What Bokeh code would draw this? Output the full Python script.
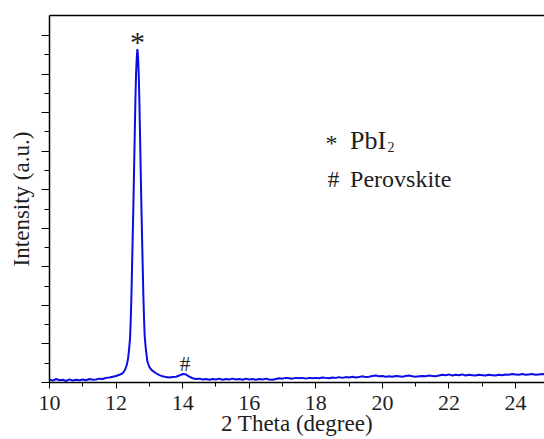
from bokeh.plotting import figure
from bokeh.models import FixedTicker, Range1d, Label, LinearAxis
from bokeh.embed import file_html
from bokeh.resources import INLINE

# ---- data ----
two_theta = [
    10.0, 10.1, 10.2, 10.3, 10.4, 10.5, 10.6, 10.7, 10.8, 10.9,
    11.0, 11.1, 11.2, 11.3, 11.4, 11.5, 11.6, 11.7, 11.8, 11.9,
    12.0, 12.1, 12.2, 12.27, 12.32, 12.36, 12.39, 12.42, 12.44, 12.46,
    12.48, 12.50, 12.52, 12.54, 12.56, 12.58, 12.60, 12.62, 12.64, 12.66,
    12.68, 12.70, 12.72, 12.74, 12.76, 12.78, 12.80, 12.82, 12.84, 12.86,
    12.89, 12.94, 12.99, 13.04, 13.1, 13.2, 13.3, 13.4, 13.5, 13.6,
    13.7, 13.8, 13.9, 14.0, 14.1, 14.2, 14.3, 14.4, 14.5, 14.6,
    14.7, 14.8, 14.9, 15.0, 15.1, 15.2, 15.3, 15.4, 15.5, 15.6,
    15.7, 15.8, 15.9, 16.0, 16.1, 16.2, 16.3, 16.4, 16.5, 16.6,
    16.7, 16.8, 16.9, 17.0, 17.1, 17.2, 17.3, 17.4, 17.5, 17.6,
    17.7, 17.8, 17.9, 18.0, 18.1, 18.2, 18.3, 18.4, 18.5, 18.6,
    18.7, 18.8, 18.9, 19.0, 19.1, 19.2, 19.3, 19.4, 19.5, 19.6,
    19.7, 19.8, 19.9, 20.0, 20.1, 20.2, 20.3, 20.4, 20.5, 20.6,
    20.7, 20.8, 20.9, 21.0, 21.1, 21.2, 21.3, 21.4, 21.5, 21.6,
    21.7, 21.8, 21.9, 22.0, 22.1, 22.2, 22.3, 22.4, 22.5, 22.6,
    22.7, 22.8, 22.9, 23.0, 23.1, 23.2, 23.3, 23.4, 23.5, 23.6,
    23.7, 23.8, 23.9, 24.0, 24.1, 24.2, 24.3, 24.4, 24.5, 24.6,
    24.7, 24.8, 24.9,
]
intensity = [
    0.08, 0.05, 0.09, 0.06, 0.07, 0.04, 0.08, 0.05, 0.07, 0.06,
    0.08, 0.06, 0.09, 0.07, 0.08, 0.10, 0.09, 0.12, 0.13, 0.15,
    0.17, 0.20, 0.24, 0.33, 0.45, 0.62, 0.85, 1.15, 1.60, 2.20,
    3.00, 3.80, 4.60, 5.50, 6.40, 7.30, 8.00, 8.40, 8.65, 8.45,
    8.00, 7.30, 6.40, 5.50, 4.60, 3.80, 3.00, 2.25, 1.65, 1.20,
    0.90, 0.55, 0.42, 0.35, 0.30, 0.24, 0.19, 0.16, 0.14, 0.13,
    0.14, 0.15, 0.18, 0.22, 0.21, 0.15, 0.11, 0.09, 0.10, 0.08,
    0.09, 0.07, 0.09, 0.08, 0.10, 0.07, 0.09, 0.08, 0.10, 0.08,
    0.09, 0.07, 0.10, 0.08, 0.09, 0.07, 0.09, 0.08, 0.10, 0.08,
    0.07, 0.09, 0.11, 0.10, 0.12, 0.11, 0.10, 0.12, 0.11, 0.12,
    0.10, 0.12, 0.11, 0.12, 0.11, 0.13, 0.12, 0.11, 0.13, 0.12,
    0.14, 0.12, 0.14, 0.13, 0.15, 0.13, 0.14, 0.16, 0.14, 0.15,
    0.17, 0.18, 0.16, 0.17, 0.15, 0.16, 0.15, 0.17, 0.16, 0.15,
    0.17, 0.18, 0.16, 0.15, 0.16, 0.17, 0.16, 0.18, 0.17, 0.16,
    0.18, 0.20, 0.19, 0.21, 0.18, 0.20, 0.19, 0.21, 0.18, 0.20,
    0.19, 0.18, 0.20, 0.19, 0.18, 0.20, 0.19, 0.18, 0.20, 0.19,
    0.21, 0.20, 0.22, 0.21, 0.20, 0.22, 0.20, 0.21, 0.22, 0.20,
    0.21, 0.22, 0.21,
]
x_major = [10, 12, 14, 16, 18, 20, 22, 24]
x_minor = [11, 13, 15, 17, 19, 21, 23]
y_major = [0, 1, 2, 3, 4, 5, 6, 7, 8, 9]
y_minor = [0.5, 1.5, 2.5, 3.5, 4.5, 5.5, 6.5, 7.5, 8.5]

FONT = "Liberation Serif"
TXT = "#1e1e1e"

p = figure(width=544, height=439, output_backend="svg", toolbar_location=None,
           x_range=Range1d(10, 24.87), y_range=Range1d(0, 9.52),
           min_border_left=49, min_border_right=0, min_border_top=15,
           min_border_bottom=57)
p.outline_line_color = None
p.grid.visible = False
p.background_fill_color = "white"
p.border_fill_color = "white"

p.line(two_theta, intensity, line_color="#0c0ce6", line_width=2)

xa = p.below[0]
ya = p.left[0]

xa.ticker = FixedTicker(ticks=x_major, minor_ticks=x_minor)
xa.axis_label = "2 Theta (degree)"
xa.axis_label_text_font = FONT
xa.axis_label_text_font_style = "normal"
xa.axis_label_text_font_size = "23px"
xa.axis_label_text_color = TXT
xa.axis_label_standoff = -2
xa.major_label_text_font = FONT
xa.major_label_text_font_size = "22px"
xa.major_label_text_color = TXT
xa.major_label_standoff = 7
xa.major_tick_out = 6
xa.major_tick_in = 0
xa.minor_tick_out = 4
xa.minor_tick_in = 0
xa.axis_line_width = 1.5
xa.axis_line_color = "black"

ya.ticker = FixedTicker(ticks=y_major, minor_ticks=y_minor)
ya.major_label_overrides = {t: "" for t in y_major}
ya.axis_label = "Intensity (a.u.)"
ya.axis_label_text_font = FONT
ya.axis_label_text_font_style = "normal"
ya.axis_label_text_font_size = "23px"
ya.axis_label_text_color = TXT
ya.axis_label_standoff = 8
ya.major_label_standoff = 0
ya.major_tick_out = 8
ya.major_tick_in = 0
ya.minor_tick_out = 5
ya.minor_tick_in = 0
ya.axis_line_width = 1.5
ya.axis_line_color = "black"

# top frame line (axis without ticks or labels)
top = LinearAxis(ticker=FixedTicker(ticks=[]), major_tick_out=0, major_tick_in=0,
                 minor_tick_out=0, minor_tick_in=0, major_label_standoff=0,
                 major_label_text_font_size="0px",
                 axis_line_color="black", axis_line_width=1.5)
p.add_layout(top, "above")

# peak markers
imax = intensity.index(max(intensity))
p.add_layout(Label(x=two_theta[imax], y=intensity[imax], y_offset=8, text="*",
                   text_font=FONT, text_font_size="30px", text_align="center",
                   text_baseline="alphabetic", text_color=TXT))
p.add_layout(Label(x=14.07, y=0.48, text="#", text_font=FONT, text_font_size="21px",
                   text_align="center", text_baseline="alphabetic", text_color=TXT))

# legend text
p.add_layout(Label(x=18.47, y=6.22, text="*", text_font=FONT, text_font_size="24px",
                   text_align="center", text_baseline="alphabetic", text_color=TXT))
p.add_layout(Label(x=19.03, y=6.29, text="PbI", text_font=FONT, text_font_size="26px",
                   text_align="left", text_baseline="alphabetic", text_color=TXT))
p.add_layout(Label(x=20.15, y=6.10, text="2", text_font=FONT, text_font_size="14px",
                   text_align="left", text_baseline="alphabetic", text_color=TXT))
p.add_layout(Label(x=18.53, y=5.26, text="#", text_font=FONT, text_font_size="23px",
                   text_align="center", text_baseline="alphabetic", text_color=TXT))
p.add_layout(Label(x=19.03, y=5.27, text="Perovskite", text_font=FONT, text_font_size="24px",
                   text_align="left", text_baseline="alphabetic", text_color=TXT))

open("out.html", "w").write(file_html(p, INLINE))
